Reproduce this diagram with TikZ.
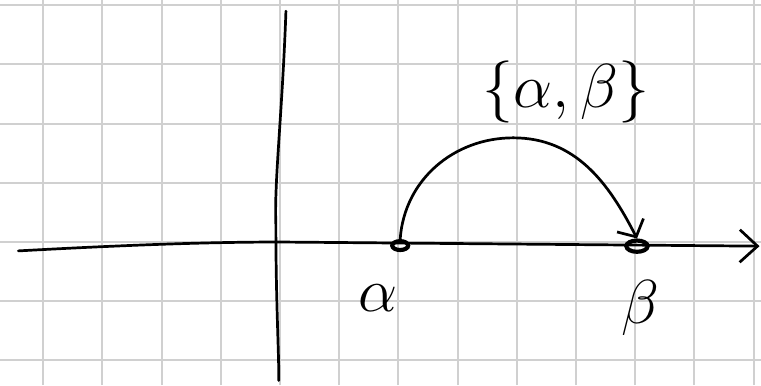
\documentclass[tikz,border=0pt]{standalone}
\usepackage{amsmath,amssymb}
\usepackage{tikz}
\usetikzlibrary{arrows.meta,positioning,shapes.geometric}
\definecolor{gridgray}{RGB}{208,208,208}
\begin{document}
\begin{tikzpicture}[
  every node/.style={inner sep=0pt},
  lbl/.style={font=\Huge, scale=1.2, transform shape},
  gridline/.style={draw=gridgray, line width=1pt},
  pen/.style={draw=black, line width=1.3pt, line cap=round},
  dot/.style={ellipse, draw=black, line width=2pt, inner sep=0pt},
  barb/.style 2 args={-{Straight Barb[length=#1, width=#2, line width=1.3pt]}}
]
\useasboundingbox[fill=white] (-4.73,-2.416) rectangle (8.125,4.088);
\draw[gridline] (-4.73,-2.416) grid (8.125,4.088);
% axes
\coordinate (xl) at (-4.42,-0.15);
\coordinate (xr) at (8.10,-0.07);
\coordinate (yt) at (0.10,3.90);
\coordinate (yb) at (-0.02,-2.34);
\draw[pen, barb={3mm}{5.5mm}] (xl) .. controls (-2.6,-0.05) and (-1.2,0) .. (0,0) -- (xr);
\draw[pen] (yt) .. controls (0.04,2.2) and (-0.10,1.0) .. (-0.07,0.3) .. controls (-0.07,-1.0) and (-0.02,-1.8) .. (yb);
% points
\node[dot, minimum width=0.27cm, minimum height=0.15cm] (a) at (2.03,-0.06) {};
\node[dot, minimum width=0.36cm, minimum height=0.19cm] (b) at (6.03,-0.07) {};
\node[lbl] (la) at (1.66,-0.95) {$\alpha$};
\node[lbl] (lb) at (6.08,-1.11) {$\beta$};
% arc
\coordinate (top) at (3.94,1.76);
\draw[pen] (a.north) to[out=86,in=180] (top);
\draw[pen, barb={2.2mm}{5mm}] (top) to[out=0,in=117] (b.north);
\node[lbl] (set) at (4.83,2.53) {$\{\alpha,\beta\}$};
\end{tikzpicture}
\end{document}
